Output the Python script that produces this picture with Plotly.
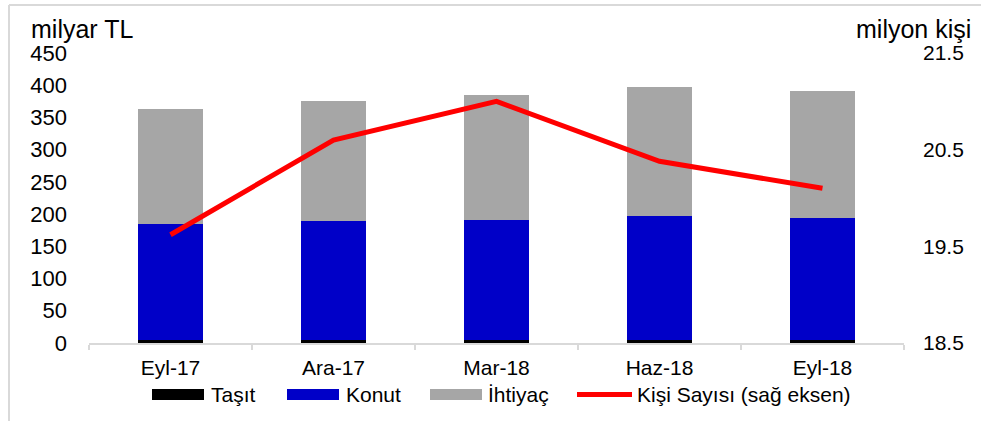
import plotly.graph_objects as go

categories = ["Eyl-17", "Ara-17", "Mar-18", "Haz-18", "Eyl-18"]
tasit = [4, 4, 4, 4, 4]
konut = [181, 185, 187, 193.5, 190]
ihtiyac = [178, 186.5, 194, 199.5, 196.5]
kisi = [19.62, 20.60, 21.00, 20.38, 20.10]

left_ticks = list(range(0, 451, 50))
right_ticks = [18.5, 19.5, 20.5, 21.5]

FONT = "Liberation Sans, Arial, sans-serif"
W, H = 981, 421
L, R, T, B = 89, 77, 53, 78
PW, PH = W - L - R, H - T - B

def px(x):
    return (x - L) / PW

def py(y):
    return (H - B - y) / PH

fig = go.Figure()
fig.add_trace(go.Bar(x=categories, y=tasit, name="Taşıt", marker=dict(color="#000000", line=dict(width=0))))
fig.add_trace(go.Bar(x=categories, y=konut, name="Konut", marker=dict(color="#0000C8", line=dict(width=0))))
fig.add_trace(go.Bar(x=categories, y=ihtiyac, name="İhtiyaç", marker=dict(color="#A6A6A6", line=dict(width=0))))
fig.add_trace(go.Scatter(x=categories, y=kisi, name="Kişi Sayısı (sağ eksen)", yaxis="y2",
                         mode="lines", line=dict(color="#FF0000", width=5)))

fig.update_layout(
    width=W, height=H,
    margin=dict(l=L, r=R, t=T, b=B),
    barmode="stack", bargap=0.6,
    paper_bgcolor="white", plot_bgcolor="white",
    font=dict(family=FONT, size=21, color="#000000"),
    showlegend=False,
    xaxis=dict(type="category", showgrid=False, showline=True, linecolor="#D9D9D9", linewidth=2,
               ticks="outside", tickson="boundaries", ticklen=5, tickcolor="#D9D9D9", tickwidth=2,
               tickfont=dict(size=21), ticklabelstandoff=5),
    yaxis=dict(range=[0, 450], tickvals=left_ticks, showgrid=False, zeroline=False, showline=False,
               tickfont=dict(size=22), ticklabelstandoff=21),
    yaxis2=dict(range=[18.5, 21.5], tickvals=right_ticks, ticktext=[f"{v:.1f}" for v in right_ticks],
                overlaying="y", side="right", showgrid=False, zeroline=False, showline=False,
                tickfont=dict(size=21), ticklabelstandoff=18),
)

ann = [
    dict(text="milyar TL", x=px(29), y=py(29), xanchor="left", yanchor="middle", font=dict(size=25)),
    dict(text="milyon kişi", x=px(973), y=py(29), xanchor="right", yanchor="middle", font=dict(size=25)),
]
legend_y = py(394)
items = [("Taşıt", "#000000", 152, 204, 209, "bar"),
         ("Konut", "#0000C8", 287, 339, 344, "bar"),
         ("İhtiyaç", "#A6A6A6", 430, 482, 486, "bar"),
         ("Kişi Sayısı (sağ eksen)", "#FF0000", 577, 632, 635, "line")]
shapes = []
for name, col, x0, x1, tx, kind in items:
    if kind == "bar":
        shapes.append(dict(type="rect", xref="paper", yref="paper", x0=px(x0), x1=px(x1),
                           y0=py(400), y1=py(389), fillcolor=col, line=dict(width=0)))
    else:
        shapes.append(dict(type="line", xref="paper", yref="paper", x0=px(x0), x1=px(x1),
                           y0=py(394.5), y1=py(394.5), line=dict(color=col, width=5)))
    ann.append(dict(text=name, x=px(tx), y=legend_y, xanchor="left", yanchor="middle", font=dict(size=21)))

for a in ann:
    a.update(xref="paper", yref="paper", showarrow=False)

shapes.append(dict(type="line", xref="paper", yref="paper", x0=px(9), x1=px(985), y0=py(5), y1=py(5),
                   line=dict(color="#D9D9D9", width=2)))
shapes.append(dict(type="line", xref="paper", yref="paper", x0=px(9), x1=px(9), y0=py(5), y1=py(425),
                   line=dict(color="#D9D9D9", width=2)))

fig.update_layout(annotations=ann, shapes=shapes)
fig.write_html("out.html", config={"displayModeBar": False},
               post_script="document.body.style.margin='0px';document.body.style.overflow='hidden';")
